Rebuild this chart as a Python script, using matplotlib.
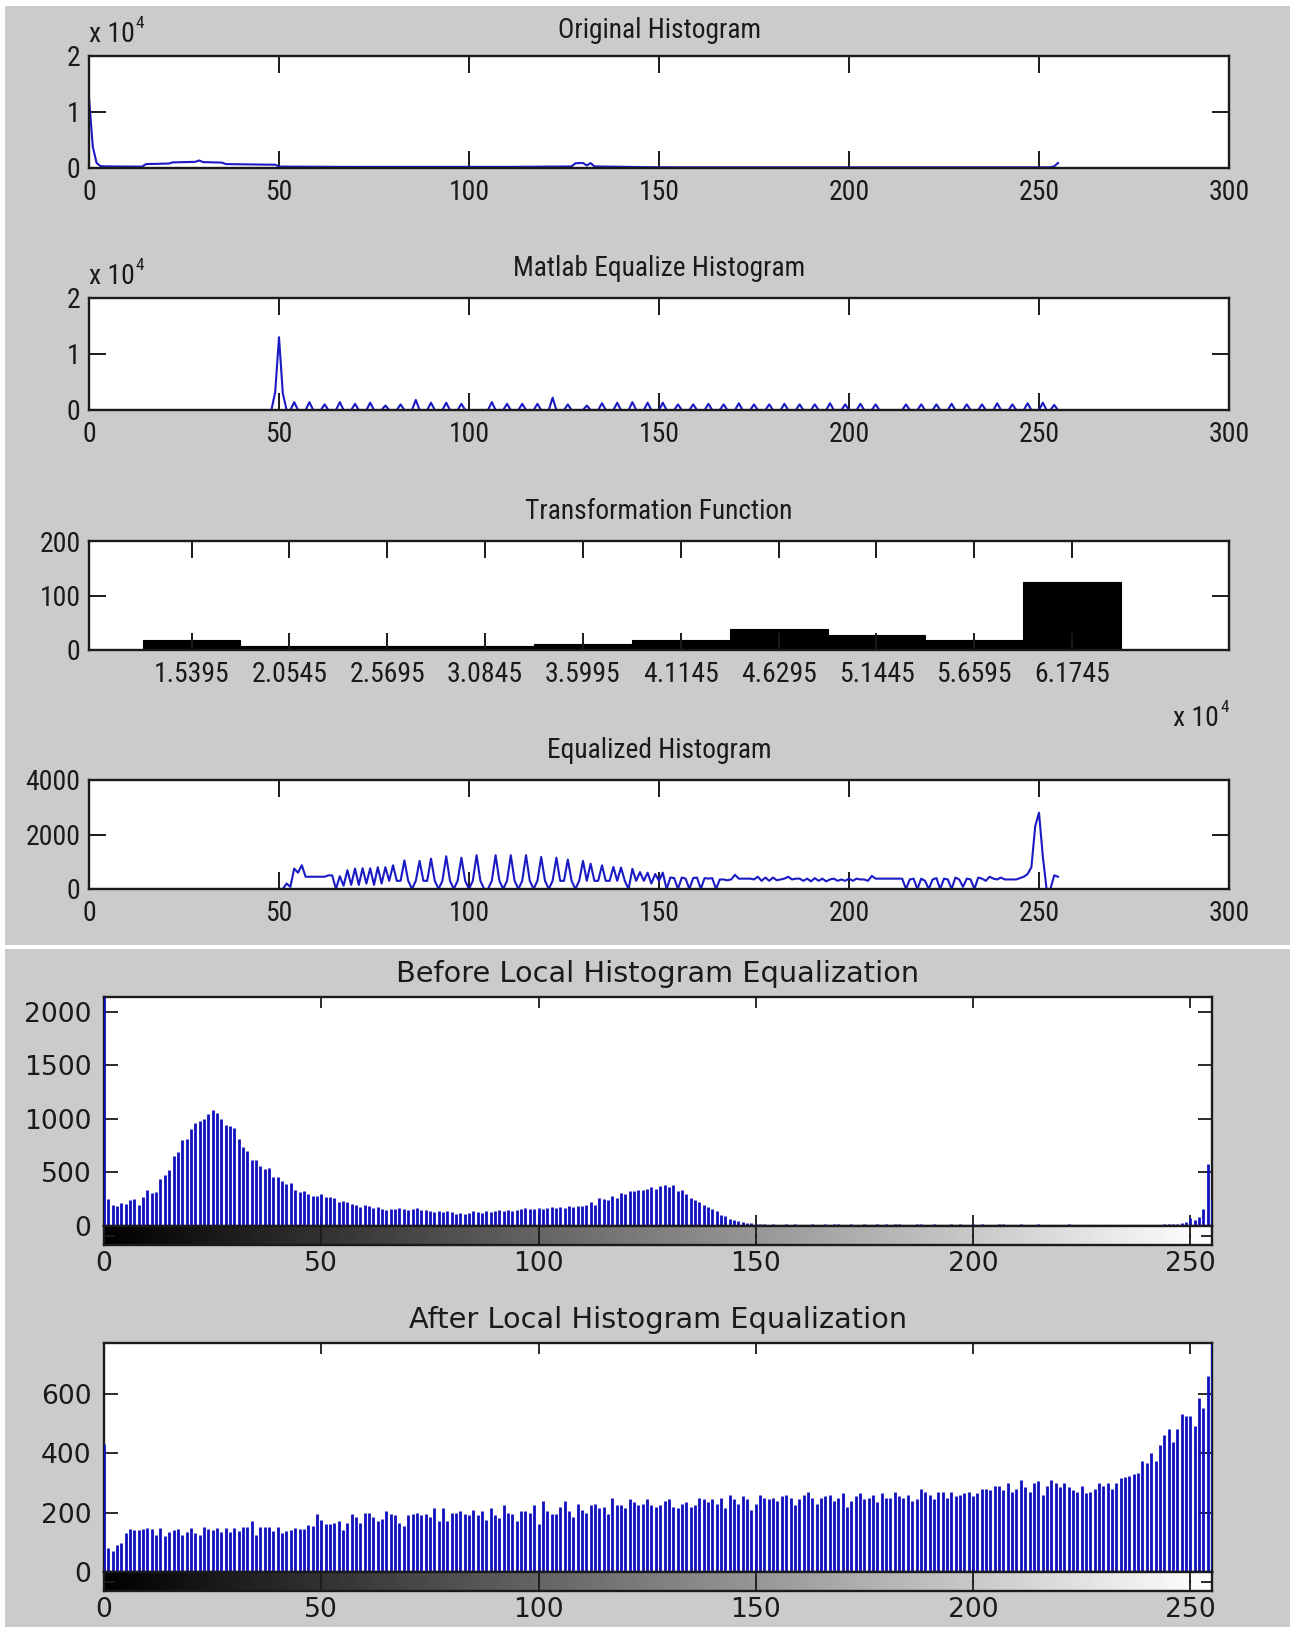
import numpy as np
import matplotlib
matplotlib.use('Agg')
import matplotlib.pyplot as plt
from matplotlib import font_manager
from matplotlib.font_manager import FontProperties
from matplotlib.textpath import TextPath
from matplotlib.patches import Rectangle
from matplotlib.ticker import FuncFormatter

# ---------------- data ----------------
hist_x = list(range(256))

orig_hist = [
    12500, 3800, 900, 350, 300, 290, 280, 280, 270, 270, 260, 260, 260, 250, 250, 700,
    720, 730, 740, 760, 780, 800, 1000, 1020, 1030, 1050, 1060, 1080, 1100, 1350, 1050, 1040,
    1020, 1000, 980, 960, 700, 690, 680, 670, 660, 650, 650, 640, 630, 620, 610, 600,
    600, 590, 260, 250, 250, 240, 240, 240, 230, 230, 230, 220, 220, 220, 220, 210,
    210, 210, 210, 200, 200, 200, 200, 200, 200, 200, 190, 190, 190, 190, 190, 190,
    190, 190, 190, 190, 190, 190, 190, 190, 190, 190, 190, 190, 190, 190, 190, 190,
    190, 190, 190, 190, 190, 190, 200, 200, 200, 200, 200, 200, 200, 200, 210, 210,
    210, 220, 220, 220, 230, 230, 240, 240, 250, 250, 260, 260, 270, 270, 280, 280,
    850, 880, 900, 450, 880, 280, 270, 260, 250, 240, 230, 220, 210, 200, 190, 180,
    170, 160, 150, 150, 140, 140, 130, 130, 130, 120, 120, 120, 120, 110, 110, 110,
    110, 110, 110, 110, 110, 110, 110, 110, 110, 110, 110, 110, 110, 110, 110, 110,
    110, 110, 110, 110, 110, 110, 110, 110, 110, 110, 110, 110, 110, 110, 110, 110,
    110, 110, 110, 110, 110, 110, 110, 110, 110, 110, 110, 110, 110, 110, 110, 110,
    110, 110, 110, 110, 110, 110, 110, 110, 110, 110, 110, 110, 110, 110, 110, 110,
    110, 110, 110, 110, 110, 110, 110, 110, 110, 110, 110, 110, 110, 110, 110, 110,
    110, 110, 110, 110, 110, 110, 110, 110, 110, 110, 110, 110, 120, 150, 300, 900,
]

histeq_levels = [49, 50, 51, 54, 58, 62, 66, 70, 74, 78, 82, 86, 90, 94, 98,
                 106, 110, 114, 118, 122, 126, 131, 135, 139, 143, 147, 151, 155,
                 159, 163, 167, 171, 175, 179, 183, 187, 191, 195, 199, 203, 207,
                 215, 219, 223, 227, 231, 235, 239, 243, 247, 251, 254]
histeq_counts = [3200, 13000, 3000, 1400, 1400, 1000, 1400, 1100, 1300, 800, 1000,
                 1800, 1300, 1300, 1100, 1400, 1100, 1100, 1100, 2200, 1000, 800,
                 1200, 1300, 1400, 1300, 1300, 1000, 1000, 1100, 1000, 1200, 1000,
                 1000, 1100, 1000, 1000, 1200, 1000, 1100, 1000, 1000, 1000, 1000,
                 1100, 1000, 1000, 1200, 1000, 1200, 1300, 900]

tf_centers = [15395, 20545, 25695, 30845, 35995, 41145, 46295, 51445, 56595, 61745]
tf_counts = [19, 7, 7, 7, 11, 19, 38, 27, 19, 124]

eq_hist = [0] * 52 + [
    200, 80, 750, 600, 870, 450, 450, 450, 450, 450, 450, 500,             # 52-63
    500, 0, 470, 120, 690, 150, 750, 150, 760, 200, 760, 150, 800, 200, 800, 300,  # 64-79
    870, 300, 300, 1050, 300, 0, 300, 1030, 300, 300, 1115, 300, 0, 300, 1200, 300,  # 80-95
    0, 300, 1150, 300, 0, 300, 1240, 300, 0, 0, 300, 1240, 300, 0, 300, 1240,   # 96-111
    300, 0, 300, 1240, 300, 0, 300, 1175, 300, 0, 300, 1150, 300, 300, 1080, 300,  # 112-127
    0, 300, 1030, 300, 930, 300, 300, 870, 300, 300, 810, 300, 790, 300, 0, 740,  # 128-143
    300, 620, 300, 600, 200, 550, 300, 600, 0, 420, 400, 0, 420, 380, 0, 400,   # 144-159
    420, 0, 400, 380, 400, 0, 350, 350, 320, 350, 520, 380, 380, 380, 380, 350,  # 160-175
    450, 300, 420, 300, 420, 320, 350, 380, 450, 350, 380, 380, 300, 380, 280, 400,  # 176-191
    300, 380, 280, 350, 380, 300, 350, 300, 380, 300, 380, 350, 350, 300, 480, 380,  # 192-207
    380, 380, 380, 380, 380, 380, 380, 0, 350, 380, 0, 380, 300, 0, 350, 400,   # 208-223
    0, 380, 350, 0, 420, 350, 80, 380, 350, 0, 420, 380, 300, 450, 380, 350,    # 224-239
    420, 350, 350, 350, 350, 400, 450, 550, 800, 2300, 2800, 1200, 0, 0, 500, 450,  # 240-255
]

before_local = [
    2140, 250, 200, 190, 215, 210, 240, 250, 200, 270, 340, 310, 320, 440, 480, 520,
    650, 690, 800, 810, 910, 960, 980, 1000, 1050, 1080, 1060, 1000, 940, 930, 920, 810,
    740, 700, 620, 620, 560, 530, 540, 460, 460, 420, 390, 400, 340, 320, 330, 300,
    280, 280, 300, 270, 270, 260, 220, 230, 220, 210, 200, 180, 200, 190, 170, 180,
    160, 150, 160, 160, 170, 160, 150, 160, 170, 150, 150, 140, 130, 140, 130, 140,
    130, 110, 120, 110, 120, 140, 130, 120, 140, 130, 140, 150, 140, 150, 140, 150,
    160, 170, 160, 160, 170, 160, 170, 180, 170, 180, 170, 190, 180, 190, 190, 200,
    220, 200, 260, 250, 240, 280, 260, 310, 300, 330, 330, 340, 340, 350, 360, 350,
    370, 380, 360, 380, 330, 340, 300, 260, 240, 220, 200, 180, 160, 140, 100, 90,
    70, 60, 50, 40, 30, 25, 20, 18, 15, 12, 20, 14, 10, 16, 12, 18,
    14, 0, 12, 16, 10, 14, 18, 12, 15, 20, 14, 12, 16, 0, 14, 18,
    12, 10, 22, 14, 16, 12, 15, 18, 12, 14, 10, 16, 20, 12, 14, 16,
    0, 12, 14, 18, 12, 15, 10, 14, 16, 12, 18, 14, 0, 12, 15, 16,
    10, 14, 12, 18, 0, 12, 14, 16, 10, 12, 0, 14, 12, 10, 16, 0,
    12, 14, 0, 10, 12, 14, 0, 12, 10, 0, 14, 12, 0, 10, 12, 0,
    14, 10, 12, 14, 16, 20, 15, 20, 30, 40, 75, 60, 85, 160, 580, 240,
]

after_local = [
    430, 80, 72, 92, 98, 132, 144, 140, 140, 145, 148, 145, 125, 148, 120, 135,
    140, 145, 125, 135, 148, 130, 125, 152, 145, 140, 148, 135, 148, 135, 148, 138,
    152, 152, 170, 125, 152, 150, 152, 138, 152, 130, 138, 142, 148, 145, 143, 158,
    155, 195, 175, 160, 160, 165, 170, 140, 165, 195, 185, 165, 200, 200, 185, 170,
    178, 205, 195, 190, 165, 155, 190, 195, 200, 190, 195, 185, 215, 170, 215, 170,
    200, 200, 205, 195, 190, 210, 190, 205, 175, 215, 190, 180, 225, 200, 195, 170,
    205, 205, 200, 225, 160, 240, 205, 195, 195, 220, 240, 205, 185, 230, 210, 200,
    225, 230, 215, 220, 195, 250, 225, 225, 215, 245, 235, 225, 230, 245, 225, 220,
    225, 240, 245, 220, 215, 230, 235, 220, 225, 250, 245, 235, 245, 230, 250, 215,
    260, 245, 230, 255, 245, 210, 230, 260, 250, 245, 250, 240, 255, 260, 250, 225,
    245, 260, 270, 250, 230, 250, 255, 260, 240, 250, 265, 220, 240, 255, 265, 245,
    250, 260, 235, 265, 250, 250, 270, 255, 250, 260, 240, 245, 280, 270, 260, 245,
    270, 270, 250, 270, 255, 260, 265, 270, 255, 265, 280, 280, 275, 290, 290, 275,
    300, 270, 280, 310, 285, 270, 300, 305, 260, 290, 310, 300, 285, 300, 285, 275,
    270, 290, 265, 270, 280, 300, 290, 300, 280, 300, 315, 318, 322, 329, 334, 374,
    367, 399, 374, 427, 462, 480, 438, 480, 531, 525, 525, 491, 584, 551, 660, 770,
]

top_xticks = [0, 50, 100, 150, 200, 250, 300]
bottom_xticks = [0, 50, 100, 150, 200, 250]

# ---------------- fonts ----------------
W, H, DPI = 1290, 1627, 100


def pick_font(prefs, want_stretch=False):
    fl = font_manager.fontManager.ttflist

    def regular(f):
        return f.style == 'normal' and f.weight in (400, 'normal', 'regular', 'book')
    for p in prefs:
        for f in fl:
            if f.name == p and regular(f):
                return f.fname
    if want_stretch:
        for p in ['DejaVu Sans', 'Noto Sans', 'Open Sans', 'Liberation Sans', 'Roboto']:
            for f in fl:
                if f.name == p and regular(f) and f.stretch in (
                        'condensed', 'semi-condensed', 'extra-condensed'):
                    return f.fname
    return None


narrow_path = pick_font(['Liberation Sans Narrow', 'Arial Narrow', 'Roboto Condensed',
                         'Open Sans Condensed', 'DejaVu Sans Condensed',
                         'Noto Sans Condensed'], want_stretch=True)
if narrow_path:
    TOPFP = FontProperties(fname=narrow_path)
else:
    TOPFP = FontProperties(family='Liberation Sans')
BOTFP = FontProperties(family='DejaVu Sans')


def fit_size(fp, s, target_w, target_h, hs='0', ww=0.5):
    """font size (pt) that best matches a measured ink width / glyph height in px"""
    w1 = TextPath((0, 0), s, size=100, prop=fp).get_extents().width / 100
    h1 = TextPath((0, 0), hs, size=100, prop=fp).get_extents().height / 100
    sw = target_w * 72 / DPI / w1
    sh = target_h * 72 / DPI / h1
    return ww * sw + (1 - ww) * sh


TOP_TICK = fit_size(TOPFP, '1.5395', 75, 19.5, '0', 0.5)
TOP_TITLE = fit_size(TOPFP, 'Matlab Equalize Histogram', 303, 18.5, 'H', 0.5)
BOT_TICK = fit_size(BOTFP, '2000', 68.5, 15.5, '0', 0.75)
BOT_TITLE = fit_size(BOTFP, 'Before Local Histogram Equalization', 534, 18, 'H', 0.8)


def fp(base, size):
    p = base.copy()
    p.set_size(size)
    return p


GRAY = '#CBCBCB'
LINE = '#1a1ac4'
STEM = '#1010BE'
FRAME = '#1a1a1a'
TXT = '#1a1a1a'

fig = plt.figure(figsize=(W / DPI, H / DPI), dpi=DPI, facecolor='white')


def rect(x0, y0, x1, y1, color):
    fig.patches.append(Rectangle((x0 / W, 1 - y1 / H), (x1 - x0) / W, (y1 - y0) / H,
                                 transform=fig.transFigure, facecolor=color,
                                 edgecolor='none', zorder=-10))


def add_ax(x0, y0, x1, y1):
    return fig.add_axes([x0 / W, 1 - y1 / H, (x1 - x0) / W, (y1 - y0) / H])


def ftext(x, y, s, prop, **kw):
    fig.text(x / W, 1 - y / H, s, fontproperties=prop, **kw)


rect(5, 6, W, 945, GRAY)
rect(5, 949, W, H, GRAY)


def style_top(ax, title, tpad=16):
    ax.set_facecolor('white')
    for sp in ax.spines.values():
        sp.set_linewidth(1.7)
        sp.set_color(FRAME)
    ax.tick_params(direction='in', length=12, width=1.4, top=True, right=True,
                   colors=FRAME, labelcolor=TXT)
    ax.tick_params(axis='x', pad=8)
    ax.tick_params(axis='y', pad=6)
    for lab in ax.get_xticklabels() + ax.get_yticklabels():
        lab.set_fontproperties(fp(TOPFP, TOP_TICK))
    ax.set_title(title, fontproperties=fp(TOPFP, TOP_TITLE), color=TXT, pad=tpad)


X10_W = TextPath((0, 0), 'x 10', size=TOP_TICK, prop=TOPFP).get_extents().width * DPI / 72


def x10(x, y, ha='left'):
    # "x 10^4" exponent label, as MATLAB draws it
    if ha == 'left':
        ftext(x, y, 'x 10', fp(TOPFP, TOP_TICK), color=TXT, ha='left', va='center')
        ftext(x + X10_W + 3, y - 11, '4', fp(TOPFP, TOP_TICK * 0.62), color=TXT,
              ha='left', va='center')
    else:
        ftext(x - 10, y, 'x 10', fp(TOPFP, TOP_TICK), color=TXT, ha='right', va='center')
        ftext(x, y - 11, '4', fp(TOPFP, TOP_TICK * 0.62), color=TXT,
              ha='right', va='center')


e4fmt = FuncFormatter(lambda v, _: f'{v / 1e4:g}')

# ---- Panel 1: Original Histogram ----
ax1 = add_ax(89, 56, 1229, 168)
ax1.plot(hist_x, orig_hist, color=LINE, lw=1.5)
ax1.set_xlim(0, 300)
ax1.set_ylim(0, 2e4)
ax1.set_xticks(top_xticks)
ax1.set_yticks([0, 1e4, 2e4])
ax1.yaxis.set_major_formatter(e4fmt)
style_top(ax1, 'Original Histogram', tpad=13)
x10(89, 35)

# ---- Panel 2: Matlab Equalize Histogram ----
eq_matlab = np.zeros(256)
eq_matlab[histeq_levels] = histeq_counts
ax2 = add_ax(89, 298, 1229, 410)
ax2.plot(hist_x, eq_matlab, color=LINE, lw=1.5)
ax2.set_xlim(0, 300)
ax2.set_ylim(0, 2e4)
ax2.set_xticks(top_xticks)
ax2.set_yticks([0, 1e4, 2e4])
ax2.yaxis.set_major_formatter(e4fmt)
style_top(ax2, 'Matlab Equalize Histogram')
x10(89, 277)

# ---- Panel 3: Transformation Function ----
ax3 = add_ax(89, 541, 1229, 650)
bw = tf_centers[1] - tf_centers[0]
ax3.bar(tf_centers, tf_counts, width=bw, color='black', edgecolor='black', lw=0.8)
ax3.set_xlim(10000, 70000)
ax3.set_ylim(0, 200)
ax3.set_xticks(tf_centers)
ax3.set_xticklabels([f'{c / 1e4:.4f}' for c in tf_centers])
ax3.set_yticks([0, 100, 200])
style_top(ax3, 'Transformation Function')
x10(1229, 719, ha='right')

# ---- Panel 4: Equalized Histogram ----
ax4 = add_ax(89, 780, 1229, 889)
ax4.plot(hist_x, eq_hist, color=LINE, lw=1.5)
ax4.set_xlim(0, 300)
ax4.set_ylim(0, 4000)
ax4.set_xticks(top_xticks)
ax4.set_yticks([0, 2000, 4000])
style_top(ax4, 'Equalized Histogram')


# ---- bottom: imhist style panels ----
def imhist_panel(y_top, y_zero, y_cb, values, yticks, title):
    ax = add_ax(104, y_top, 1212, y_zero)
    cb = add_ax(104, y_zero, 1212, y_cb)
    ax.set_facecolor('white')
    ax.vlines(hist_x, 0, values, colors=STEM, lw=2.0, zorder=3)
    ax.set_xlim(0, 255)
    ax.set_ylim(0, max(values))
    ax.set_xticks(bottom_xticks)
    ax.set_yticks(yticks)
    ax.tick_params(direction='in', top=True, right=True, colors=FRAME,
                   labelcolor=TXT, width=1.3)
    ax.tick_params(axis='x', length=8, labelbottom=False)
    ax.tick_params(axis='y', length=10, pad=9)
    for lab in ax.get_yticklabels():
        lab.set_fontproperties(fp(BOTFP, BOT_TICK))
    for sp in ax.spines.values():
        sp.set_linewidth(1.7)
        sp.set_color(FRAME)
    ax.set_title(title, fontproperties=fp(BOTFP, BOT_TITLE), color=TXT, pad=11)

    cb.imshow(np.array(hist_x)[None, :], cmap='gray', aspect='auto',
              extent=(0, 255, 0, 1), vmin=0, vmax=255, interpolation='bilinear')
    cb.set_xlim(0, 255)
    cb.set_ylim(0, 1)
    cb.set_xticks(bottom_xticks)
    cb.set_yticks([0.5])
    cb.set_yticklabels([])
    cb.tick_params(direction='in', top=True, right=True, left=True, length=8,
                   width=1.3, colors=FRAME, labelcolor=TXT, pad=4)
    for lab in cb.get_xticklabels():
        lab.set_fontproperties(fp(BOTFP, BOT_TICK))
    for sp in cb.spines.values():
        sp.set_linewidth(1.7)
        sp.set_color(FRAME)
    return ax


ax5 = imhist_panel(997, 1226, 1245, before_local, [0, 500, 1000, 1500, 2000],
                   'Before Local Histogram Equalization')
ax6 = imhist_panel(1343, 1572, 1591, after_local, [0, 200, 400, 600],
                   'After Local Histogram Equalization')

fig.savefig('out.png', dpi=DPI, facecolor=fig.get_facecolor())
